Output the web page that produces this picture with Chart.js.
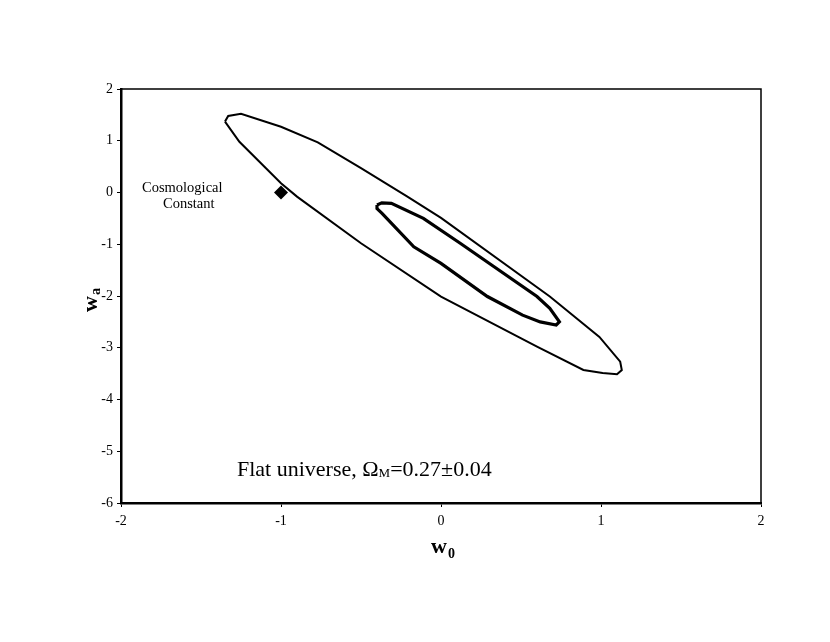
<!DOCTYPE html>
<html>
<head>
<meta charset="utf-8">
<script src="https://cdn.jsdelivr.net/npm/chart.js@4.4.1/dist/chart.umd.min.js"></script>
<style>
  html, body { margin: 0; padding: 0; background: #fff; }
  #wrap { width: 830px; height: 642px; }
</style>
</head>
<body>
<div id="wrap"><canvas id="chart" width="830" height="642"></canvas></div>
<script>
// 2-sigma (outer) contour, w0 / wa pairs
const outerW0 = [-1.35, -1.33, -1.25, -1.0, -0.77, -0.5, -0.21, 0.0, 0.68, 0.99, 1.12, 1.13, 1.1, 1.01, 0.89, 0.6, 0.0, -0.5, -0.9, -1.0, -1.26, -1.35];
const outerWa = [1.37, 1.48, 1.52, 1.27, 0.97, 0.47, -0.08, -0.49, -2.01, -2.79, -3.27, -3.43, -3.51, -3.49, -3.43, -2.98, -2.01, -0.98, -0.08, 0.18, 0.98, 1.37];

// 1-sigma (inner) contour
const innerW0 = [-0.4, -0.37, -0.31, -0.11, 0.12, 0.6, 0.68, 0.74, 0.72, 0.62, 0.51, 0.29, 0.0, -0.17, -0.37, -0.4, -0.4];
const innerWa = [-0.24, -0.2, -0.21, -0.5, -0.98, -2.01, -2.24, -2.5, -2.56, -2.5, -2.37, -2.01, -1.37, -1.05, -0.4, -0.31, -0.24];

// cosmological constant
const lambdaW0 = [-1];
const lambdaWa = [0];

const xTicks = [-2, -1, 0, 1, 2];
const yTicks = [-6, -5, -4, -3, -2, -1, 0, 1, 2];

const toPoints = (xs, ys) => xs.map((x, i) => ({ x: x, y: ys[i] }));

const serif = "'Liberation Serif', 'Times New Roman', serif";

// box, axis titles and notes
const extras = {
    id: 'extras',
    afterDraw(chart) {
        const ctx = chart.ctx;
        const a = chart.chartArea;
        ctx.save();
        ctx.strokeStyle = '#000';
        ctx.lineWidth = 1.5;
        ctx.beginPath();
        ctx.moveTo(a.left, a.top);
        ctx.lineTo(a.right, a.top);
        ctx.lineTo(a.right, a.bottom);
        ctx.stroke();

        ctx.fillStyle = '#000';
        ctx.textBaseline = 'alphabetic';
        ctx.textAlign = 'left';

        // x title  w0
        ctx.font = 'bold 22px ' + serif;
        ctx.fillText('w', 431, 553);
        ctx.font = 'bold 14px ' + serif;
        ctx.fillText('0', 448, 558);

        // y title  wa (rotated)
        ctx.save();
        ctx.translate(97, 312);
        ctx.rotate(-Math.PI / 2);
        ctx.font = 'bold 22px ' + serif;
        ctx.fillText('w', 0, 0);
        ctx.font = 'bold 14px ' + serif;
        ctx.fillText('a', 17, 3);
        ctx.restore();

        // cosmological constant note
        ctx.font = '14.5px ' + serif;
        ctx.fillText('Cosmological', 142, 192);
        ctx.fillText('Constant', 163, 208);

        // flat universe note
        ctx.font = '22px ' + serif;
        let x0 = 237;
        const by = 476;
        const t1 = 'Flat universe, \u03A9';
        ctx.fillText(t1, x0, by);
        x0 += ctx.measureText(t1).width;
        ctx.font = '13px ' + serif;
        ctx.fillText('M', x0, by + 1);
        x0 += ctx.measureText('M').width;
        ctx.font = '22px ' + serif;
        ctx.fillText('=0.27\u00B10.04', x0, by);
        ctx.restore();
    }
};

new Chart(document.getElementById('chart'), {
    type: 'scatter',
    data: {
        datasets: [
            {
                label: 'outer',
                data: toPoints(outerW0, outerWa),
                showLine: true,
                borderColor: '#000',
                borderWidth: 2,
                pointRadius: 0,
                tension: 0,
                fill: false
            },
            {
                label: 'inner',
                data: toPoints(innerW0, innerWa),
                showLine: true,
                borderColor: '#000',
                borderWidth: 3.2,
                pointRadius: 0,
                tension: 0,
                fill: false
            },
            {
                label: 'Cosmological Constant',
                data: toPoints(lambdaW0, lambdaWa),
                pointStyle: 'rectRot',
                pointRadius: 7,
                backgroundColor: '#000',
                borderColor: '#000',
                borderWidth: 0
            }
        ]
    },
    options: {
        responsive: false,
        animation: false,
        layout: { padding: { left: 0, right: 69, top: 89, bottom: 0 } },
        plugins: {
            legend: { display: false },
            tooltip: { enabled: false }
        },
        scales: {
            x: {
                type: 'linear',
                min: -2,
                max: 2,
                afterBuildTicks(s) { s.ticks = xTicks.map(v => ({ value: v })); },
                afterFit(s) { s.height = 139; },
                grid: { display: true, drawOnChartArea: false, drawTicks: true, tickLength: 4, color: '#000', lineWidth: 1 },
                border: { display: true, color: '#000', width: 2.5 },
                ticks: { color: '#000', font: { family: serif, size: 14 }, padding: 6 }
            },
            y: {
                type: 'linear',
                min: -6,
                max: 2,
                afterBuildTicks(s) { s.ticks = yTicks.map(v => ({ value: v })); },
                afterFit(s) { s.width = 121; },
                grid: { display: true, drawOnChartArea: false, drawTicks: true, tickLength: 4, color: '#000', lineWidth: 1 },
                border: { display: true, color: '#000', width: 2.5 },
                ticks: { color: '#000', font: { family: serif, size: 14 }, padding: 4 }
            }
        }
    },
    plugins: [extras]
});
</script>
</body>
</html>
